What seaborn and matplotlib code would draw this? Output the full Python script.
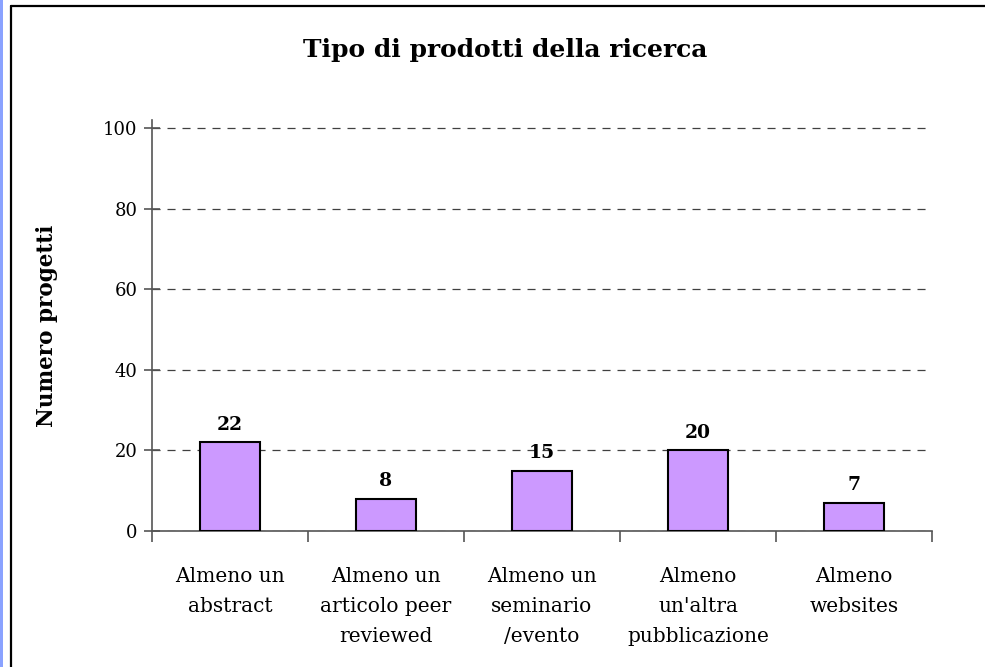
import matplotlib
matplotlib.use("Agg")
import matplotlib.pyplot as plt
import seaborn as sns
import pandas as pd
from matplotlib.patches import Rectangle
from matplotlib.lines import Line2D

categories = ["Almeno un\nabstract", "Almeno un\narticolo peer\nreviewed",
              "Almeno un\nseminario\n/evento", "Almeno\nun'altra\npubblicazione",
              "Almeno\nwebsites"]
values = [22, 8, 15, 20, 7]
yticks = [0, 20, 40, 60, 80, 100]
title = "Tipo di prodotti della ricerca"
ylabel = "Numero progetti"

sns.set_style("white")
plt.rcParams['font.family'] = ['DejaVu Serif']
plt.rcParams['lines.scale_dashes'] = False
plt.rcParams['text.color'] = 'black'
plt.rcParams['axes.labelcolor'] = 'black'
plt.rcParams['xtick.labelcolor'] = 'black'
plt.rcParams['ytick.labelcolor'] = 'black'

W, H = 985, 667
fig = plt.figure(figsize=(W / 100, H / 100), dpi=100)
ax = fig.add_axes([152 / W, 1 - 531 / H, (932 - 152) / W, (531 - 120) / H])

df = pd.DataFrame({"cat": categories, "val": values})
sns.barplot(data=df, x="cat", y="val", ax=ax, color="#CC99FF", saturation=1,
            width=0.39, edgecolor="black", linewidth=1.5, zorder=3)

ax.set_ylim(0, 102)
ax.set_xlim(-0.5, len(categories) - 0.5)
ax.set_yticks(yticks)
ax.yaxis.grid(True, linestyle=(0, (5.8, 5.0)), color="#404040", linewidth=0.9)
ax.set_axisbelow(True)

for s in ["top", "right"]:
    ax.spines[s].set_visible(False)
for s in ["left", "bottom"]:
    ax.spines[s].set_color("#555555")
    ax.spines[s].set_linewidth(1.2)

ax.tick_params(axis="y", which="major", direction="inout", length=11, width=1.2,
               color="#555555", labelsize=13, pad=5, left=True)
ax.set_xticks(range(len(categories)))
ax.set_xticklabels(categories, fontsize=14.5, linespacing=1.72)
ax.tick_params(axis="x", which="major", length=0, pad=26)
ax.set_xticks([i - 0.5 for i in range(len(categories) + 1)], minor=True)
ax.tick_params(axis="x", which="minor", direction="out", length=8, width=1.2,
               color="#555555", bottom=True)

for i, v in enumerate(values):
    ax.annotate(str(v), (i, v), xytext=(0, 6), textcoords="offset points",
                ha="center", va="bottom", fontsize=13.5, fontweight="bold")

ax.set_xlabel("")
ax.set_ylabel(ylabel, fontsize=15.5, fontweight="bold", labelpad=32)

fig.text(505 / W, 1 - 50 / H, title, ha="center", va="center",
         fontsize=18, fontweight="bold")

# frame and left blue strip
fig.patches.append(Rectangle((0, 0), 3 / W, 1, transform=fig.transFigure,
                             facecolor="#8aa2ff", edgecolor="none", zorder=0))
fig.lines.append(Line2D([11 / W, 11 / W], [0, 1 - 6 / H], transform=fig.transFigure,
                        color="black", linewidth=1.6))
fig.lines.append(Line2D([11 / W, 1], [1 - 6 / H, 1 - 6 / H], transform=fig.transFigure,
                        color="black", linewidth=1.6))

fig.savefig("out.png", dpi=100)
